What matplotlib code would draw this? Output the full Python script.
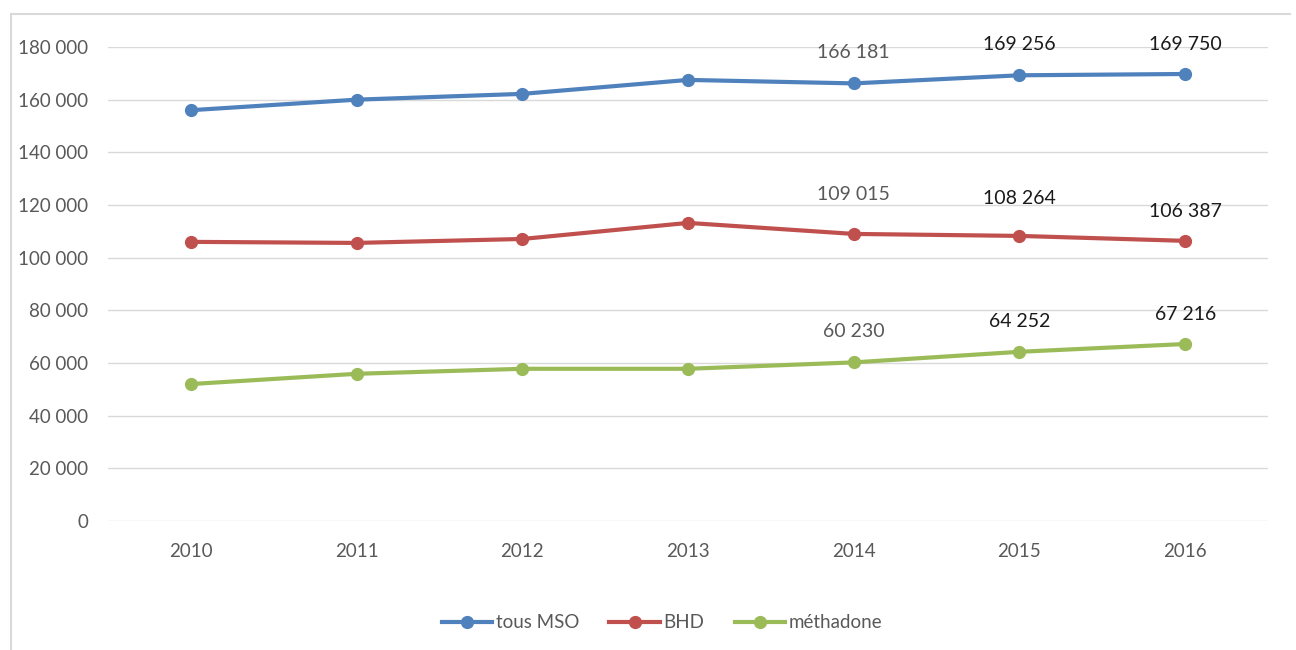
import matplotlib
matplotlib.use("Agg")
import matplotlib.pyplot as plt
from matplotlib.lines import Line2D

years = ["2010", "2011", "2012", "2013", "2014", "2015", "2016"]
tous_mso = [156000, 160000, 162200, 167500, 166181, 169256, 169750]
bhd = [106000, 105600, 107100, 113200, 109015, 108264, 106387]
methadone = [52000, 55900, 57800, 57800, 60230, 64252, 67216]
series_names = ["tous MSO", "BHD", "méthadone"]
yticks = [0, 20000, 40000, 60000, 80000, 100000, 120000, 140000, 160000, 180000]

colors = ["#4f81bd", "#c0504d", "#9bbb59"]
label_offsets = {  # pixel offsets of data labels above points, for indices 4,5,6
    0: [31, 31, 29],
    1: [39, 37, 29],
    2: [31, 30, 29],
}
label_colors = ["#595959", "#1a1a1a", "#1a1a1a"]

plt.rcParams['font.family'] = ['Lato', 'DejaVu Sans']

fig = plt.figure(figsize=(12.96, 6.5), dpi=100)
ax = fig.add_axes([108/1296, 1 - 521/650, 1160/1296, 474/650])

def fmt(v):
    return f"{v:,}".replace(",", " ")

x = list(range(len(years)))
all_series = [tous_mso, bhd, methadone]
for si, (vals, c) in enumerate(zip(all_series, colors)):
    ax.plot(x, vals, color=c, lw=3.0, marker='o', ms=8.5, solid_capstyle='round', zorder=3)
    for k, i in enumerate([4, 5, 6]):
        ax.annotate(fmt(vals[i]), (x[i], vals[i]), xytext=(0, label_offsets[si][k]),
                    textcoords='offset pixels', ha='center', va='center',
                    fontsize=14, color=label_colors[k])

ax.set_xlim(-0.5, len(years) - 0.5)
ax.set_ylim(0, 180000)
ax.set_yticks(yticks)
ax.set_yticklabels([fmt(v) for v in yticks])
ax.set_xticks(x)
ax.set_xticklabels(years)
ax.grid(axis='y', color='#d9d9d9', lw=1)
ax.set_axisbelow(True)
for s in ax.spines.values():
    s.set_visible(False)
ax.tick_params(axis='both', length=0, labelsize=13.5, labelcolor='#595959')
ax.tick_params(axis='y', pad=14)
ax.tick_params(axis='x', pad=16)

handles = [Line2D([0], [0], color=c, lw=3.0, marker='o', ms=8.5) for c in colors]
leg = fig.legend(handles, series_names, loc='center', bbox_to_anchor=(662/1296, 1 - 623/650),
                 ncol=3, frameon=False, fontsize=13.5, handlelength=2.7, handletextpad=0.2,
                 columnspacing=1.6)
for t in leg.get_texts():
    t.set_color('#595959')

# outer chart border (top and left visible)
fig.add_artist(Line2D([11/1296, 11/1296], [0, 1 - 14/650], color='#d9d9d9', lw=1.5, transform=fig.transFigure))
fig.add_artist(Line2D([11/1296, 1290/1296], [1 - 14/650, 1 - 14/650], color='#d9d9d9', lw=1.5, transform=fig.transFigure))

fig.savefig("out.png", dpi=100)
